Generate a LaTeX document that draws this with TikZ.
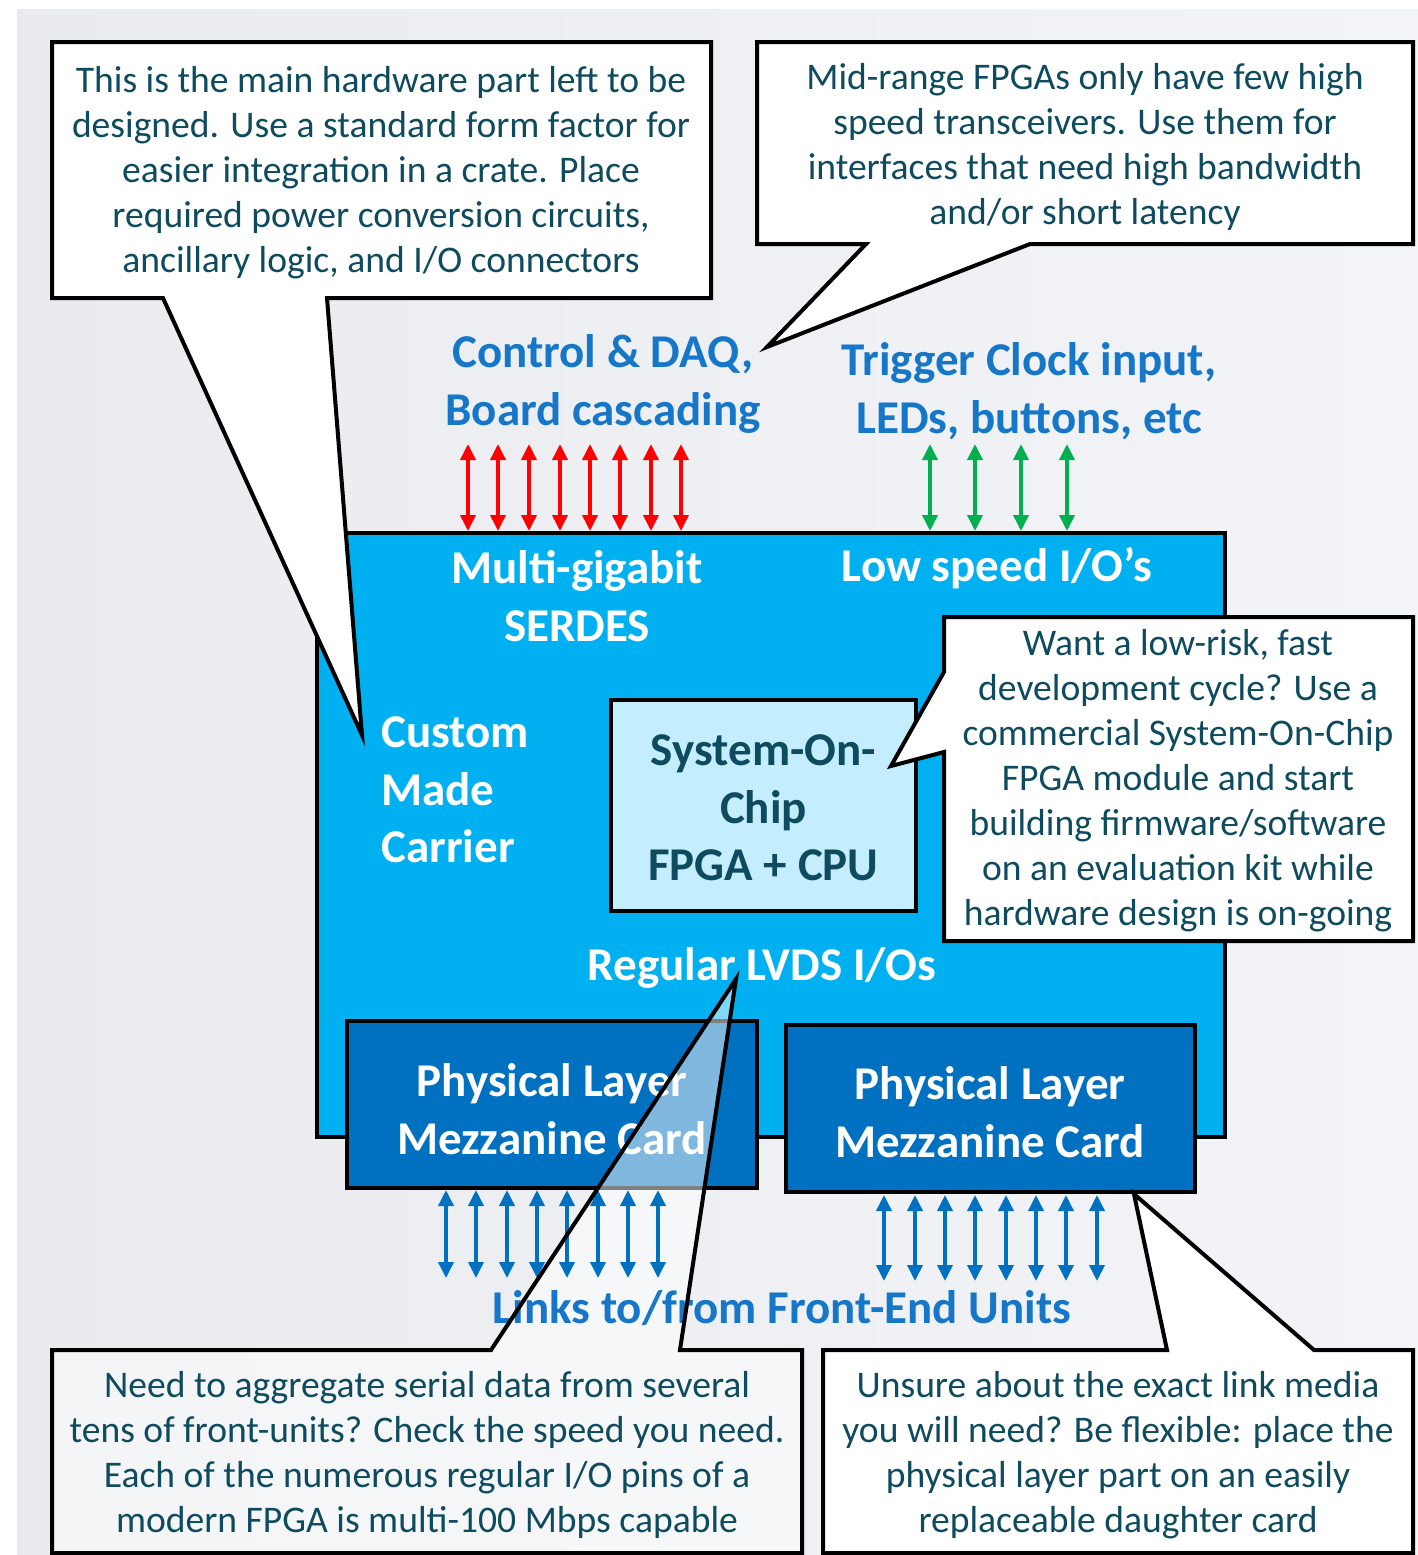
\documentclass[tikz,border=0pt]{standalone}
\usepackage{fontspec}
\setmainfont{Carlito}
\usetikzlibrary{arrows.meta}
\definecolor{carrierblue}{HTML}{00B0F0}
\definecolor{mezzblue}{HTML}{0070C0}
\definecolor{socblue}{HTML}{C4EEFD}
\definecolor{noteink}{HTML}{0E4B5F}
\definecolor{labelblue}{HTML}{1677C9}
\definecolor{bggray}{HTML}{E9EBEF}
\definecolor{bglight}{HTML}{F3F4F7}
\definecolor{iored}{HTML}{FF0000}
\definecolor{iogreen}{HTML}{00B050}
\tikzset{
  box/.style={draw=black, line width=2pt},
  callout/.style={draw=black, line width=2pt, fill=white, line join=miter},
  notetext/.style={text=noteink, align=center, font=\fontsize{18.8}{22.5}\selectfont, inner sep=0pt},
  bigtext/.style={align=center, font=\bfseries\fontsize{23.5}{28.7}\selectfont, inner sep=0pt},
  bilink/.style={line width=1.8pt, {Triangle[length=8pt,width=7.5pt]}-{Triangle[length=8pt,width=7.5pt]}},
}
\begin{document}
\begin{tikzpicture}[x=0.5pt,y=-0.5pt]
\useasboundingbox (0,0) rectangle (1418,1555);
% backdrop
\fill[white] (0,0) rectangle (1418,1555);
\shade[left color=bggray, right color=bglight] (17,9) rectangle (1418,1555);

% I/O link arrows above the carrier
\foreach \x in {468,498,529,560,590,620,651,681}
  \draw[bilink, iored] (\x,444) -- (\x,531);
\foreach \x in {930,975,1021,1067}
  \draw[bilink, iogreen] (\x,444) -- (\x,531);

% carrier board
\node[box, fill=carrierblue, minimum width=454pt, minimum height=302pt, inner sep=0pt] (carrier) at (771,835) {};
\node[bigtext, text=white] (serdes) at (577,596) {Multi-gigabit\\SERDES};
\node[bigtext, text=white] (lowspeed) at (997,568) {Low speed I/O's};
\node[bigtext, text=white, align=left, anchor=west] (custom) at (381,790) {Custom\\Made\\Carrier};
\node[bigtext, text=white] (lvds) at (762,968) {Regular LVDS I/Os};

% system-on-chip module
\node[box, fill=socblue, minimum width=152.5pt, minimum height=105.5pt, inner sep=0pt] (soc) at (763.5,805.5) {};
\node[bigtext, text=noteink] (soctext) at (763.5,808) {System-On-\\Chip\\FPGA + CPU};

% physical layer mezzanine cards
\node[box, fill=mezzblue, minimum width=205pt, minimum height=83.5pt, inner sep=0pt] (mezzA) at (552,1104.5) {};
\node[bigtext, text=white] (mezzAtext) at (552,1109) {Physical Layer\\Mezzanine Card};
\node[box, fill=mezzblue, minimum width=204.5pt, minimum height=83.5pt, inner sep=0pt] (mezzB) at (990.5,1108.5) {};
\node[bigtext, text=white] (mezzBtext) at (990,1112) {Physical Layer\\Mezzanine Card};

% translucent body of the regular-I/O callout, under the link arrows
\coordinate (tipE) at (736,979);
\fill[white, fill opacity=0.5] (52,1350) -- (491,1350) -- (tipE) -- (680,1350) -- (802,1350) -- (802,1553) -- (52,1553) -- cycle;

% front-end links below the cards
\foreach \x in {446,476,507,537,567,598,628,658}
  \draw[bilink, mezzblue] (\x,1190) -- (\x,1278);
\foreach \x in {884,915,945,975,1006,1036,1066,1097}
  \draw[bilink, mezzblue] (\x,1195) -- (\x,1281);

% outside labels
\node[bigtext, text=labelblue] (ctrl) at (603,384) {Control \& DAQ,\\Board cascading};
\node[bigtext, text=labelblue] (trig) at (1029,391) {Trigger Clock input,\\LEDs, buttons, etc};
\node[bigtext, text=labelblue] (links) at (782,1308) {Links to/from Front-End Units};

% callout: carrier form factor
\coordinate (tipA) at (362,735);
\draw[callout] (52,42) -- (711,42) -- (711,298) -- (327,298) -- (tipA) -- (163,298) -- (52,298) -- cycle;
\node[notetext] (noteA) at (381,173) {This is the main hardware part left to be\\designed. Use a standard form factor for\\easier integration in a crate. Place\\required power conversion circuits,\\ancillary logic, and I/O connectors};

% callout: transceivers
\coordinate (tipB) at (767,347);
\draw[callout] (757,42) -- (1413,42) -- (1413,244) -- (1030,244) -- (tipB) -- (866,244) -- (757,244) -- cycle;
\node[notetext] (noteB) at (1085,147) {Mid-range FPGAs only have few high\\speed transceivers. Use them for\\interfaces that need high bandwidth\\and/or short latency};

% callout: system-on-chip module
\coordinate (tipC) at (891,766);
\draw[callout] (944,617) -- (1413,617) -- (1413,941) -- (944,941) -- (944,752) -- (tipC) -- (944,672) -- cycle;
\node[notetext] (noteC) at (1178,781) {Want a low-risk, fast\\development cycle? Use a\\commercial System-On-Chip\\FPGA module and start\\building firmware/software\\on an evaluation kit while\\hardware design is on-going};

% callout: daughter card
\coordinate (tipD) at (1134,1194);
\draw[callout] (823,1350) -- (1167,1350) -- (tipD) -- (1314,1350) -- (1413,1350) -- (1413,1553) -- (823,1553) -- cycle;
\node[notetext] (noteD) at (1118,1455) {Unsure about the exact link media\\you will need? Be flexible: place the\\physical layer part on an easily\\replaceable daughter card};

% callout: regular I/O bandwidth (outline over the links)
\draw[callout, fill=none] (52,1350) -- (491,1350) -- (tipE) -- (680,1350) -- (802,1350) -- (802,1553) -- (52,1553) -- cycle;
\node[notetext] (noteE) at (427,1455) {Need to aggregate serial data from several\\tens of front-units? Check the speed you need.\\Each of the numerous regular I/O pins of a\\modern FPGA is multi-100 Mbps capable};
\end{tikzpicture}
\end{document}
